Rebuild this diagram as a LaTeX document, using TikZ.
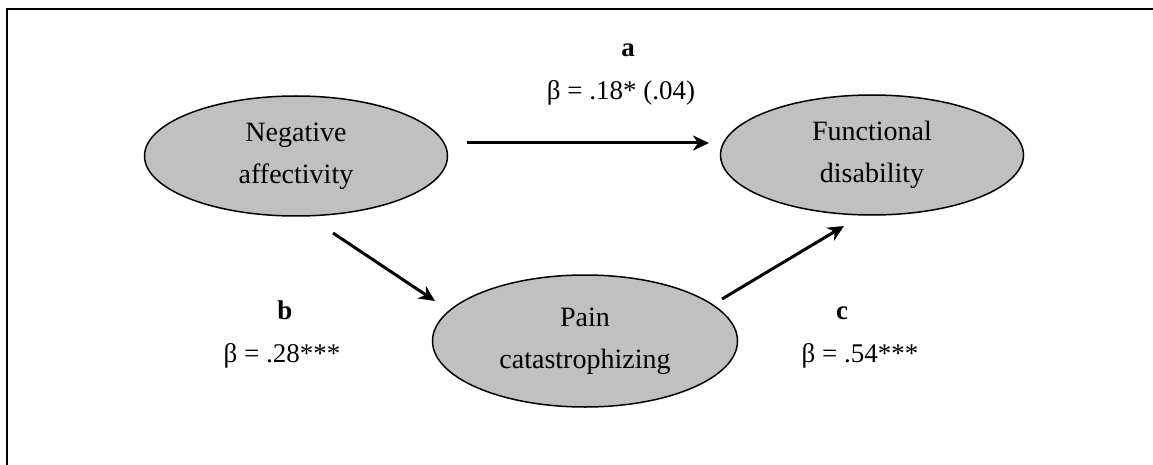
\documentclass[tikz,border=0pt]{standalone}
\usepackage{fontspec}
\setmainfont{Liberation Serif}
\usepackage{tikz}
\usetikzlibrary{arrows.meta,shapes.geometric}
\definecolor{ovalgray}{RGB}{192,192,192}

\tikzset{
  var/.style={ellipse,draw,line width=1.5pt,fill=ovalgray,inner sep=0pt,
    minimum width=303pt,minimum height=120pt,align=center,
    font=\fontsize{28}{42}\selectfont},
  effect/.style={line width=3pt,-{Stealth[length=16pt,width=15pt,inset=5pt]}},
  lbl/.style={anchor=base,font=\fontsize{27}{32}\selectfont}
}

\begin{document}
\begin{tikzpicture}[x=1pt,y=-1pt]
\useasboundingbox (0,0) rectangle (1153,465);
\draw[line width=2.5pt] (7,465) -- (7,9) -- (1153,9);

\node[var] (neg) at (296,156) {Negative\\affectivity};
\node[var] (fun) at (872,155) {Functional\\disability};
\node[var,minimum width=305pt,minimum height=132pt] (pain) at (585,341) {Pain\\catastrophizing};

\coordinate (a1) at (467,143);
\coordinate (a2) at (709,143);
\coordinate (b1) at (333,233);
\coordinate (b2) at (435,301);
\coordinate (c1) at (722,299);
\coordinate (c2) at (844,226);
\draw[effect] (a1) -- (a2);
\draw[effect] (b1) -- (b2);
\draw[effect] (c1) -- (c2);

\foreach \n/\x/\y/\xb/\txt in {a/628/57/621/{.18* (.04)}, b/285/319/282/{.28***}, c/842/319/860/{.54***}}{
  \node[lbl,font=\fontsize{27}{32}\selectfont\bfseries] (l\n) at (\x,\y) {\n};
  \node[lbl] (v\n) at (\xb,\y+43) {β = \txt};
}
\end{tikzpicture}
\end{document}
